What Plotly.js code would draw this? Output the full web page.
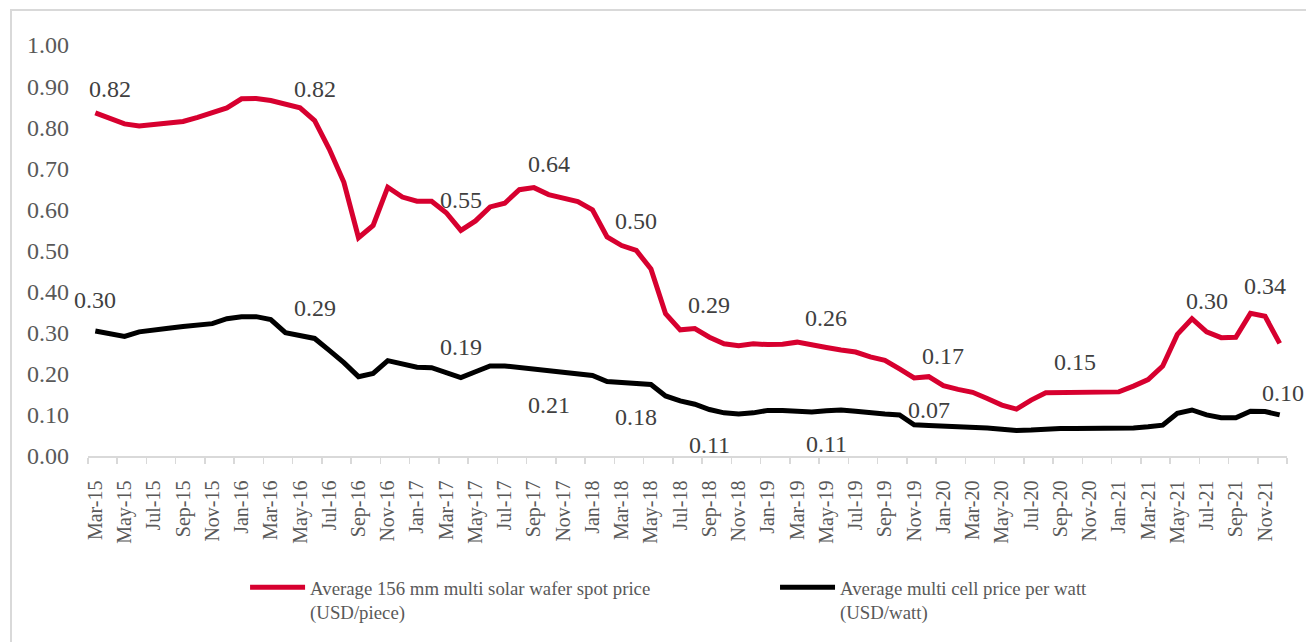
<!DOCTYPE html>
<html>
<head>
<meta charset="utf-8">
<script src="https://cdn.plot.ly/plotly-3.0.1.min.js"></script>
<style>
  html, body { margin: 0; padding: 0; background: #fff; overflow: hidden; }
  #wrap { position: relative; width: 1306px; height: 642px; }
  #chart { position: absolute; left: 0; top: 0; width: 1306px; height: 642px; }
  #frame { position: absolute; left: 10px; top: 9px; width: 1320px; height: 660px;
           border: 2px solid #d9d9d9; pointer-events: none; box-sizing: border-box; }
</style>
</head>
<body>
<div id="wrap"><div id="chart"></div><div id="frame"></div></div>
<script>
// ---- data ----
const months = [
  "Mar-15","Apr-15","May-15","Jun-15","Jul-15","Aug-15","Sep-15","Oct-15","Nov-15","Dec-15",
  "Jan-16","Feb-16","Mar-16","Apr-16","May-16","Jun-16","Jul-16","Aug-16","Sep-16","Oct-16","Nov-16","Dec-16",
  "Jan-17","Feb-17","Mar-17","Apr-17","May-17","Jun-17","Jul-17","Aug-17","Sep-17","Oct-17","Nov-17","Dec-17",
  "Jan-18","Feb-18","Mar-18","Apr-18","May-18","Jun-18","Jul-18","Aug-18","Sep-18","Oct-18","Nov-18","Dec-18",
  "Jan-19","Feb-19","Mar-19","Apr-19","May-19","Jun-19","Jul-19","Aug-19","Sep-19","Oct-19","Nov-19","Dec-19",
  "Jan-20","Feb-20","Mar-20","Apr-20","May-20","Jun-20","Jul-20","Aug-20","Sep-20","Oct-20","Nov-20","Dec-20",
  "Jan-21","Feb-21","Mar-21","Apr-21","May-21","Jun-21","Jul-21","Aug-21","Sep-21","Oct-21","Nov-21","Dec-21"
];

const waferName = "Average 156 mm multi solar wafer spot price<br>(USD/piece)";
const waferPrice = [
  0.835, 0.820, 0.808, 0.803, 0.806, 0.808, 0.814, 0.824, 0.834, 0.847,
  0.869, 0.870, 0.865, 0.855, 0.847, 0.816, 0.747, 0.666, 0.531, 0.561, 0.654, 0.630,
  0.620, 0.620, 0.592, 0.549, 0.572, 0.606, 0.615, 0.648, 0.653, 0.636, 0.627, 0.619,
  0.599, 0.533, 0.512, 0.500, 0.455, 0.346, 0.307, 0.310, 0.289, 0.273, 0.268, 0.273,
  0.271, 0.272, 0.277, 0.269, 0.264, 0.258, 0.253, 0.241, 0.233, 0.212, 0.190, 0.193,
  0.171, 0.162, 0.155, 0.140, 0.124, 0.114, 0.136, 0.154, 0.154, 0.154, 0.155, 0.154,
  0.156, 0.170, 0.186, 0.219, 0.296, 0.334, 0.302, 0.288, 0.289, 0.347, 0.340, 0.274
];

const cellName = "Average multi cell price per watt<br>(USD/watt)";
const cellPrice = [
  0.304, 0.297, 0.291, 0.302, 0.308, 0.311, 0.315, 0.319, 0.322, 0.334,
  0.339, 0.339, 0.332, 0.300, 0.294, 0.286, 0.257, 0.227, 0.193, 0.201, 0.232, 0.223,
  0.216, 0.215, 0.202, 0.191, 0.205, 0.219, 0.219, 0.215, 0.211, 0.206, 0.201, 0.199,
  0.196, 0.181, 0.178, 0.178, 0.174, 0.146, 0.134, 0.126, 0.113, 0.105, 0.102, 0.105,
  0.111, 0.111, 0.109, 0.107, 0.110, 0.112, 0.109, 0.104, 0.102, 0.100, 0.076, 0.074,
  0.073, 0.071, 0.070, 0.068, 0.065, 0.062, 0.063, 0.066, 0.067, 0.067, 0.067, 0.067,
  0.067, 0.068, 0.071, 0.075, 0.104, 0.112, 0.100, 0.093, 0.093, 0.109, 0.108, 0.100
];

// months that carry a value label
const waferLabelMonths = ["Apr-15","Jun-16","Apr-17","Oct-17","Apr-18","Sep-18","May-19","Jan-20","Oct-20","Jul-21","Nov-21"];
const cellLabelMonths  = ["Mar-15","Jun-16","Apr-17","Oct-17","Apr-18","Sep-18","May-19","Dec-19","Dec-21"];

// ---- styles ----
const RED = "#d7002f";
const BLACK = "#000000";
const SERIF = "Liberation Serif, Times New Roman, serif";
const waferLabelShift = [30,32,30,31,30,32,30,30,31,31,30];
const cellLabelShift  = [31,30,31,-34,-34,-35,-33,16,22];
const cellLabelXShift = [0,0,0,0,0,0,0,0,3];

const xIdx = months.map((_, i) => i);
const tickIdx = xIdx.filter(i => i % 2 === 0);
const boundaries = tickIdx.map(i => i - 0.5).concat([months.length - 0.5]);

const traces = [
  { x: xIdx, y: waferPrice, name: waferName, type: "scatter", mode: "lines",
    line: { color: RED, width: 5 }, hoverinfo: "skip", legend: "legend" },
  { x: xIdx, y: cellPrice, name: cellName, type: "scatter", mode: "lines",
    line: { color: BLACK, width: 5 }, hoverinfo: "skip", legend: "legend2" }
];

const annotations = [];
waferLabelMonths.forEach((m, k) => {
  const i = months.indexOf(m);
  annotations.push({ x: i, y: waferPrice[i], xref: "x", yref: "y",
    text: waferPrice[i].toFixed(2), showarrow: false, yshift: waferLabelShift[k],
    font: { family: SERIF, size: 24, color: "#404040" } });
});
cellLabelMonths.forEach((m, k) => {
  const i = months.indexOf(m);
  annotations.push({ x: i, y: cellPrice[i], xref: "x", yref: "y",
    text: cellPrice[i].toFixed(2), showarrow: false, yshift: cellLabelShift[k], xshift: cellLabelXShift[k],
    font: { family: SERIF, size: 24, color: "#404040" } });
});

const legendStyle = {
  orientation: "v", xanchor: "left", yanchor: "top", y: -0.274,
  font: { family: SERIF, size: 18.8, color: "#595959" },
  itemwidth: 55, valign: "top", bgcolor: "rgba(0,0,0,0)", borderwidth: 0
};

const layout = {
  width: 1306, height: 642,
  margin: { l: 88, r: 19, t: 45, b: 186, autoexpand: false },
  paper_bgcolor: "#ffffff", plot_bgcolor: "#ffffff",
  showlegend: true,
  xaxis: {
    type: "linear", range: [-0.5, months.length - 0.5],
    tickmode: "array", tickvals: tickIdx, ticktext: tickIdx.map(i => months[i]),
    tickangle: -90, ticks: "", ticklabelstandoff: 15,
    tickfont: { family: SERIF, size: 20, color: "#595959" },
    showline: true, linecolor: "#d9d9d9", linewidth: 1.5,
    showgrid: false, zeroline: false, automargin: false,
    minor: { tickmode: "array", tickvals: boundaries, ticks: "outside", ticklen: 6,
             tickcolor: "#d9d9d9", tickwidth: 1.5, showgrid: false }
  },
  yaxis: {
    range: [0, 1], tickmode: "linear", tick0: 0, dtick: 0.1, tickformat: ".2f",
    ticks: "", ticklabelstandoff: 18, automargin: false,
    tickfont: { family: SERIF, size: 24, color: "#595959" },
    showline: false, showgrid: false, zeroline: false
  },
  legend: Object.assign({}, legendStyle, { x: 0.131 }),
  legend2: Object.assign({}, legendStyle, { x: 0.573 }),
  annotations: annotations
};

Plotly.newPlot("chart", traces, layout, { displayModeBar: false, staticPlot: true });
</script>
</body>
</html>
